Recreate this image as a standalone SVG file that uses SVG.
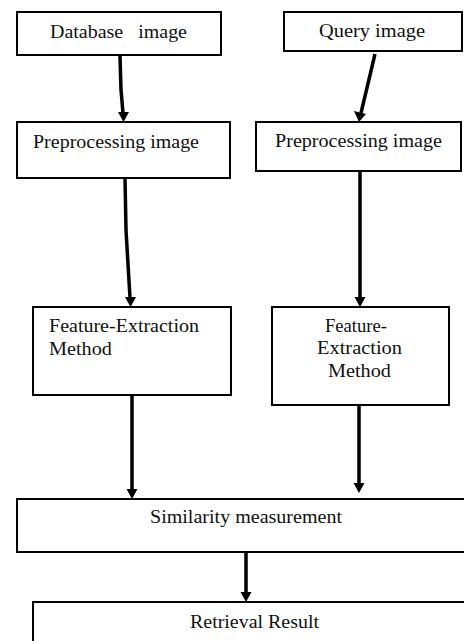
<svg xmlns="http://www.w3.org/2000/svg" width="464" height="641" viewBox="0 0 464 641">
<style>
.box{fill:#fff;stroke:#000;stroke-width:2}
.t{font-family:"Liberation Serif","Times New Roman",serif;font-size:19px;fill:#111}
.c{stroke:#000;stroke-width:3.5;fill:none}
.h{fill:#000;stroke:none}
</style>
<rect width="464" height="641" fill="#fff"/>
<g id="connectors">
<path class="c" d="M120,56 L121,90 L123,113"/>
<polygon class="h" points="118,112 129,112 123.5,122"/>
<path class="c" d="M375,54 L361,113"/>
<polygon class="h" points="354,111 366,114 359,122"/>
<path class="c" d="M125,178 L126,230 L130,298"/>
<polygon class="h" points="125,297 136,297 130.5,307"/>
<path class="c" d="M360,171 L360,298"/>
<polygon class="h" points="354.5,297 365.5,297 360,307"/>
<path class="c" d="M132,395 L132,490"/>
<polygon class="h" points="126.5,489 137.5,489 132,499"/>
<path class="c" d="M359,405 L359,484"/>
<polygon class="h" points="353.5,483 364.5,483 359,493"/>
<path class="c" d="M246,552 L246,593"/>
<polygon class="h" points="240.5,592 251.5,592 246,602"/>
</g>
<g id="db">
<rect class="box" x="17" y="12" width="204" height="43"/>
<text class="t" x="50" y="38" textLength="137" lengthAdjust="spacingAndGlyphs" xml:space="preserve">Database   image</text>
</g>
<g id="query">
<rect class="box" x="284" y="12" width="178" height="39"/>
<text class="t" x="319" y="37" textLength="106" lengthAdjust="spacingAndGlyphs">Query image</text>
</g>
<g id="pre-left">
<rect class="box" x="17" y="122" width="213" height="56"/>
<text class="t" x="33" y="148" textLength="166" lengthAdjust="spacingAndGlyphs">Preprocessing image</text>
</g>
<g id="pre-right">
<rect class="box" x="256" y="122" width="205" height="49"/>
<text class="t" x="275" y="147" textLength="167" lengthAdjust="spacingAndGlyphs">Preprocessing image</text>
</g>
<g id="feat-left">
<rect class="box" x="33" y="307" width="198" height="88"/>
<text class="t" x="49" y="332" textLength="150" lengthAdjust="spacingAndGlyphs">Feature-Extraction</text>
<text class="t" x="49" y="355" textLength="63" lengthAdjust="spacingAndGlyphs">Method</text>
</g>
<g id="feat-right">
<rect class="box" x="272" y="307" width="177" height="98"/>
<text class="t" x="325" y="332" textLength="62" lengthAdjust="spacingAndGlyphs">Feature-</text>
<text class="t" x="317" y="354" textLength="85" lengthAdjust="spacingAndGlyphs">Extraction</text>
<text class="t" x="328" y="377" textLength="63" lengthAdjust="spacingAndGlyphs">Method</text>
</g>
<g id="similarity">
<rect class="box" x="17" y="499" width="460" height="53"/>
<text class="t" x="150" y="523" textLength="192" lengthAdjust="spacingAndGlyphs">Similarity measurement</text>
</g>
<g id="retrieval">
<rect class="box" x="33" y="602" width="440" height="50"/>
<text class="t" x="190" y="628" textLength="129" lengthAdjust="spacingAndGlyphs">Retrieval Result</text>
</g>
</svg>
